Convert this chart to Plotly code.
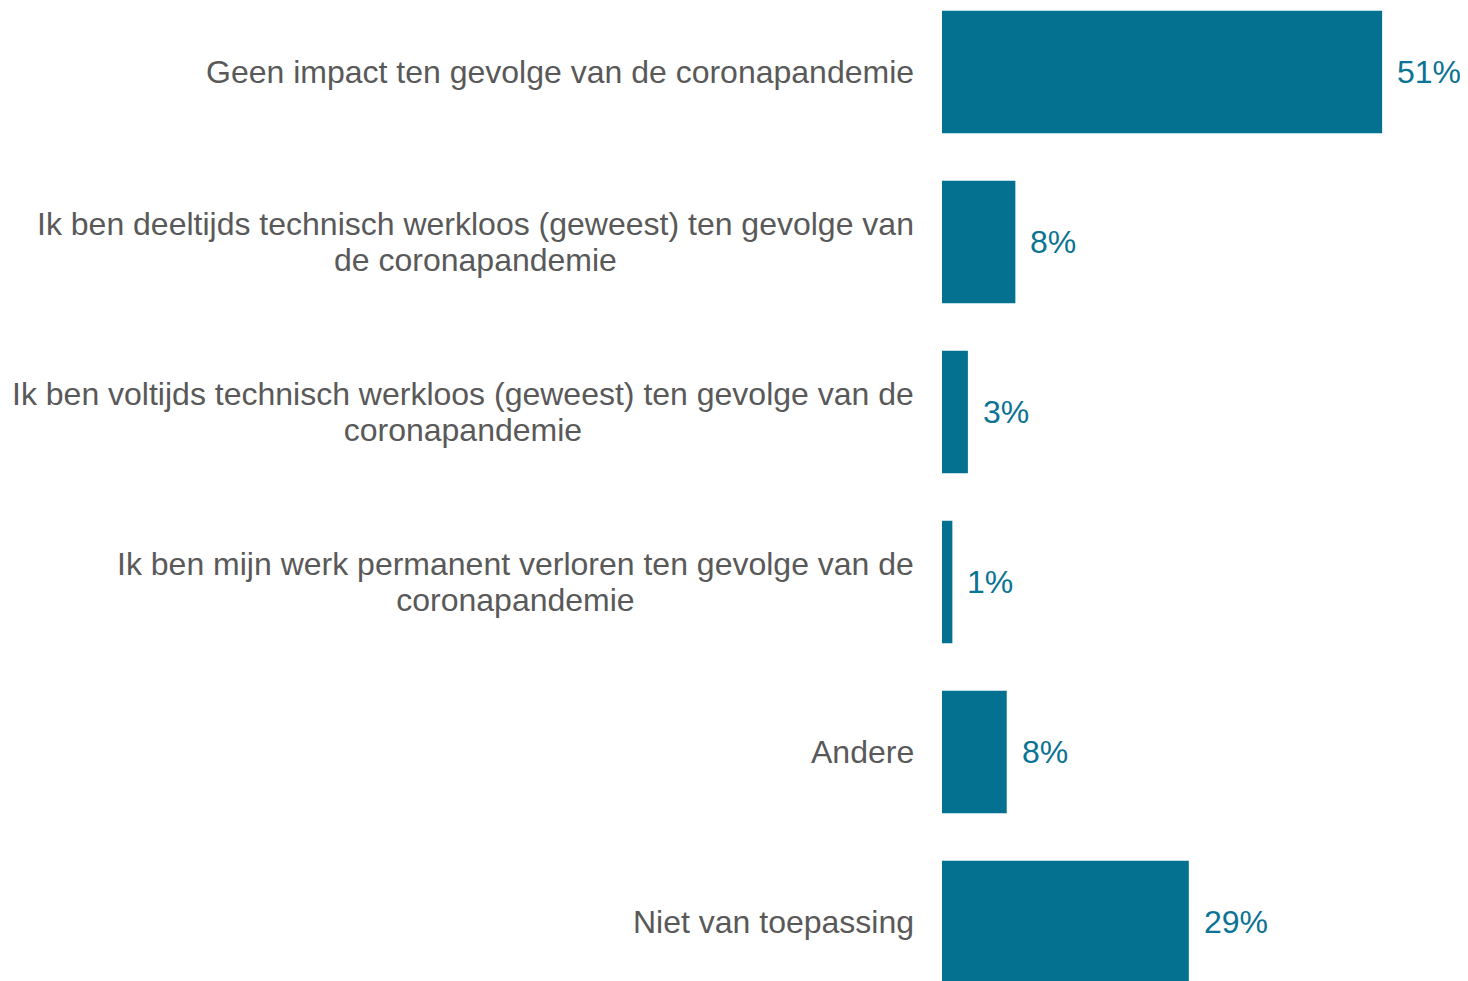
import plotly.graph_objects as go

categories = [
    "Geen impact ten gevolge van de coronapandemie",
    "Ik ben deeltijds technisch werkloos (geweest) ten gevolge van<br>de coronapandemie",
    "Ik ben voltijds technisch werkloos (geweest) ten gevolge van de<br>coronapandemie",
    "Ik ben mijn werk permanent verloren ten gevolge van de<br>coronapandemie",
    "Andere",
    "Niet van toepassing",
]
values = [51.0, 8.5, 3.0, 1.2, 7.5, 28.6]
value_labels = ["51%", "8%", "3%", "1%", "8%", "29%"]

BAR_COLOR = "#03718F"
LABEL_COLOR = "#595959"
FONT = "Liberation Sans, Arial, sans-serif"

positions = list(range(len(categories)))

fig = go.Figure(
    go.Bar(
        x=values,
        y=positions,
        orientation="h",
        width=0.72,
        marker=dict(color=BAR_COLOR, line=dict(width=0)),
        hoverinfo="skip",
    )
)

# category labels: centred lines in a right-aligned block
# (font size 28 on the annotation keeps the tighter line spacing, text itself is 32px)
for pos, cat in zip(positions, categories):
    lines = cat.split("<br>")
    text = "<br>".join(f'<span style="font-size:32px">{ln}</span>' for ln in lines)
    fig.add_annotation(
        x=0, xref="paper", y=pos, yref="y",
        text=text, showarrow=False,
        xanchor="right", yanchor="middle", align="center",
        xshift=-26,
        font=dict(family=FONT, size=28, color=LABEL_COLOR),
    )

# value labels
for pos, val, lab in zip(positions, values, value_labels):
    fig.add_annotation(
        x=val, xref="x", y=pos, yref="y",
        text=lab, showarrow=False,
        xanchor="left", yanchor="middle",
        xshift=13,
        font=dict(family=FONT, size=32, color="#0B7394"),
    )

fig.update_layout(
    width=1460,
    height=981,
    margin=dict(l=934, r=0, t=0, b=0),
    plot_bgcolor="white",
    paper_bgcolor="white",
    showlegend=False,
    xaxis=dict(range=[0, 60.95], visible=False, fixedrange=True),
    yaxis=dict(range=[5.394, -0.3765], visible=False, fixedrange=True),
)

fig.write_html("out.html")
